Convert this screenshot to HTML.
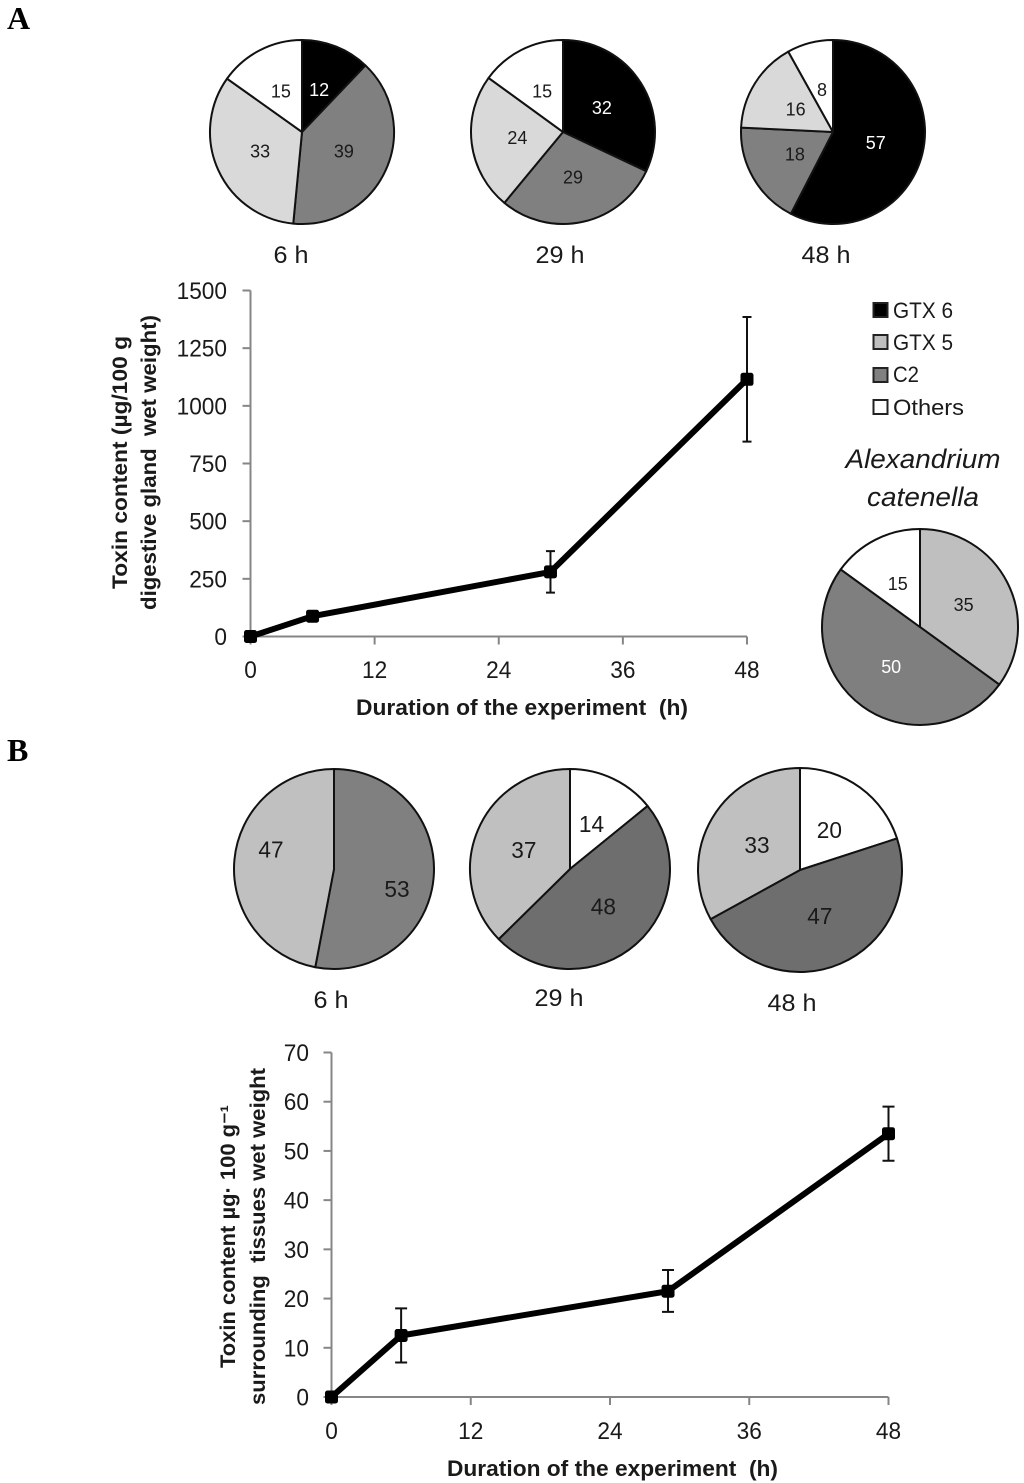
<!DOCTYPE html>
<html lang="en">
<head>
<meta charset="utf-8">
<title>Toxin content over time</title>
<style>
html,body{margin:0;padding:0;background:#fff;}
svg{display:block;font-family:"Liberation Sans",sans-serif;fill:#1a1a1a;}
svg text{white-space:pre;}
</style>
</head>
<body>
<svg id="fig" xmlns="http://www.w3.org/2000/svg" width="1024" height="1483" viewBox="0 0 1024 1483">
  <rect x="0" y="0" width="1024" height="1483" fill="#fff"/>
  <text x="7" y="29" font-family="Liberation Serif" font-weight="bold" font-size="32" fill="#000">A</text>
  <text x="7" y="761" font-family="Liberation Serif" font-weight="bold" font-size="32" fill="#000">B</text>

  <text x="291" y="263" font-size="24" text-anchor="middle" textLength="35" lengthAdjust="spacingAndGlyphs">6 h</text>
  <text x="560" y="263" font-size="24" text-anchor="middle" textLength="49" lengthAdjust="spacingAndGlyphs">29 h</text>
  <text x="826" y="263" font-size="24" text-anchor="middle" textLength="49" lengthAdjust="spacingAndGlyphs">48 h</text>
  <text x="331" y="1008" font-size="24" text-anchor="middle" textLength="35" lengthAdjust="spacingAndGlyphs">6 h</text>
  <text x="559" y="1006" font-size="24" text-anchor="middle" textLength="49" lengthAdjust="spacingAndGlyphs">29 h</text>
  <text x="792" y="1011" font-size="24" text-anchor="middle" textLength="49" lengthAdjust="spacingAndGlyphs">48 h</text>

  <g>
    <rect x="873.5" y="303" width="14" height="14" fill="#000" stroke="#222" stroke-width="2"/>
    <text x="893" y="318" font-size="22" textLength="60" lengthAdjust="spacingAndGlyphs">GTX 6</text>
    <rect x="873.5" y="335" width="14" height="14" fill="#bfbfbf" stroke="#222" stroke-width="2"/>
    <text x="893" y="350" font-size="22" textLength="60" lengthAdjust="spacingAndGlyphs">GTX 5</text>
    <rect x="873.5" y="368" width="14" height="14" fill="#808080" stroke="#222" stroke-width="2"/>
    <text x="893" y="382" font-size="22" textLength="26" lengthAdjust="spacingAndGlyphs">C2</text>
    <rect x="873.5" y="400" width="14" height="14" fill="#fff" stroke="#222" stroke-width="2"/>
    <text x="893" y="415" font-size="22" textLength="71" lengthAdjust="spacingAndGlyphs">Others</text>
  </g>
  <text x="923" y="468" font-size="27" font-style="italic" text-anchor="middle" textLength="155" lengthAdjust="spacingAndGlyphs">Alexandrium</text>
  <text x="923" y="506" font-size="27" font-style="italic" text-anchor="middle" textLength="112" lengthAdjust="spacingAndGlyphs">catenella</text>

  <text x="522" y="715" font-size="22" font-weight="bold" text-anchor="middle" textLength="332" lengthAdjust="spacingAndGlyphs">Duration of the experiment  (h)</text>
  <text transform="translate(127,462.5) rotate(-90)" font-size="21" font-weight="bold" text-anchor="middle" textLength="253" lengthAdjust="spacingAndGlyphs">Toxin content (µg/100 g</text>
  <text transform="translate(156,462.5) rotate(-90)" font-size="21" font-weight="bold" text-anchor="middle" textLength="295" lengthAdjust="spacingAndGlyphs">digestive gland  wet weight)</text>

  <text x="612.5" y="1476" font-size="22" font-weight="bold" text-anchor="middle" textLength="331" lengthAdjust="spacingAndGlyphs">Duration of the experiment  (h)</text>
  <text transform="translate(235,1236.5) rotate(-90)" font-size="21" font-weight="bold" text-anchor="middle" textLength="263" lengthAdjust="spacingAndGlyphs">Toxin content µg· 100 g⁻¹</text>
  <text transform="translate(265,1236.5) rotate(-90)" font-size="21" font-weight="bold" text-anchor="middle" textLength="337" lengthAdjust="spacingAndGlyphs">surrounding  tissues wet weight</text>
</svg>
<script>
// Panel A line chart
const aHours = [0, 6, 29, 48];
const aToxin = [0, 88, 280, 1115];
const aErrUpper = [0, 88, 370, 1385];
const aErrLower = [0, 88, 190, 845];
const aYTicks = [0, 250, 500, 750, 1000, 1250, 1500];
const aXTicks = [0, 12, 24, 36, 48];

// Panel B line chart
const bHours = [0, 6, 29, 48];
const bToxin = [0, 12.5, 21.5, 53.5];
const bErrUpper = [0, 18, 25.8, 59];
const bErrLower = [0, 7, 17.3, 48];
const bYTicks = [0, 10, 20, 30, 40, 50, 60, 70];
const bXTicks = [0, 12, 24, 36, 48];

// Pie values, clockwise from 12 o'clock
const pieA6Series = ['GTX 6', 'C2', 'GTX 5', 'Others'];
const pieA6Values = [12, 39, 33, 15];
const pieA29Series = ['GTX 6', 'C2', 'GTX 5', 'Others'];
const pieA29Values = [32, 29, 24, 15];
const pieA48Series = ['GTX 6', 'C2', 'GTX 5', 'Others'];
const pieA48Values = [57, 18, 16, 8];
const pieCatSeries = ['GTX 5', 'C2', 'Others'];
const pieCatValues = [35, 50, 15];
const pieB6Series = ['C2', 'GTX 5'];
const pieB6Values = [53, 47];
const pieB29Series = ['Others', 'C2', 'GTX 5'];
const pieB29Values = [14, 48, 37];
const pieB48Series = ['Others', 'C2', 'GTX 5'];
const pieB48Values = [20, 47, 33];

const svg = document.getElementById('fig');
const NS = 'http://www.w3.org/2000/svg';
const AXIS = '#868686';

function mk(tag, attrs, parent) {
  const el = document.createElementNS(NS, tag);
  for (const k in attrs) el.setAttribute(k, attrs[k]);
  (parent || svg).appendChild(el);
  return el;
}

function numLabel(parent, x, y, txt, size, anchor, fill, digitWidth) {
  const s = String(txt);
  const t = mk('text', {x: x, y: y, 'font-size': size, 'text-anchor': anchor, fill: fill, textLength: s.length * digitWidth, lengthAdjust: 'spacingAndGlyphs'}, parent);
  t.textContent = s;
  return t;
}

function drawLine(prefix, box, hours, vals, up, lo, yTicks, xTicks, yMax, xMax, yLabelX, xLabelY, capHalf) {
  const sx = v => box.x0 + (v / xMax) * (box.x1 - box.x0);
  const sy = v => box.y0 - (v / yMax) * (box.y0 - box.y1);
  const g = mk('g', {});
  
  

  const yAxis = mk('line', {x1: box.x0, x2: box.x0, y1: sy(0), y2: sy(yMax), stroke: AXIS, 'stroke-width': 2}, g);
  
  
  const xAxis = mk('line', {x1: sx(0), x2: sx(xMax), y1: box.y0, y2: box.y0, stroke: AXIS, 'stroke-width': 2}, g);
  
  

  yTicks.forEach(v => {
    const t = mk('line', {x1: box.x0 - 8, x2: box.x0, y1: sy(v), y2: sy(v), stroke: AXIS, 'stroke-width': 2}, g);
    
    
    const l = numLabel(g, yLabelX, sy(v) + 8.5, v, 24, 'end', '#1a1a1a', 12.6);
    
    
  });
  xTicks.forEach(v => {
    const t = mk('line', {x1: sx(v), x2: sx(v), y1: box.y0, y2: box.y0 + 8, stroke: AXIS, 'stroke-width': 2}, g);
    
    
    const l = numLabel(g, sx(v), xLabelY, v, 24, 'middle', '#1a1a1a', 12.6);
    
    
  });

  hours.forEach((h, i) => {
    if (up[i] === lo[i]) return;
    const x = sx(h);
    const e = mk('path', {
      d: 'M' + (x - capHalf) + ' ' + sy(up[i]) + 'H' + (x + capHalf) + 'M' + x + ' ' + sy(up[i]) + 'V' + sy(lo[i]) + 'M' + (x - capHalf) + ' ' + sy(lo[i]) + 'H' + (x + capHalf),
      fill: 'none', stroke: '#111', 'stroke-width': 2
    }, g);
    
    
  });

  const pts = hours.map((h, i) => sx(h) + ',' + sy(vals[i])).join(' ');
  const line = mk('polyline', {points: pts, fill: 'none', stroke: '#000', 'stroke-width': 6, 'stroke-linejoin': 'round'}, g);
  
  

  hours.forEach((h, i) => {
    const m = mk('rect', {x: sx(h) - 6.5, y: sy(vals[i]) - 6.5, width: 13, height: 13, rx: 2.5, fill: '#000'}, g);
    
    
  });
}

function drawPie(name, cx, cy, r, series, values, palette, labelR, size, digitW, whiteLabels, labelTurn) {
  const g = mk('g', {});
  
  
  const total = values.reduce((a, b) => a + b, 0);
  const pt = (rad, a) => [cx + rad * Math.sin(a), cy - rad * Math.cos(a)];
  let acc = 0;
  values.forEach((v, i) => {
    const a0 = acc / total * 2 * Math.PI;
    acc += v;
    const a1 = acc / total * 2 * Math.PI;
    const p0 = pt(r, a0), p1 = pt(r, a1);
    const large = (a1 - a0) > Math.PI ? 1 : 0;
    const s = mk('path', {
      d: 'M' + cx + ' ' + cy + 'L' + p0[0] + ' ' + p0[1] + 'A' + r + ' ' + r + ' 0 ' + large + ' 1 ' + p1[0] + ' ' + p1[1] + 'Z',
      fill: palette[series[i]], stroke: '#111', 'stroke-width': 2, 'stroke-linejoin': 'round'
    }, g);
    
    
  });
  acc = 0;
  values.forEach((v, i) => {
    const mid = (acc + v / 2) / total * 2 * Math.PI + (labelTurn || 0) * Math.PI / 180;
    acc += v;
    const p = pt(labelR, mid);
    const fill = whiteLabels.indexOf(series[i]) >= 0 ? '#fff' : '#1a1a1a';
    const l = numLabel(g, p[0], p[1] + size * 0.36, v, size, 'middle', fill, digitW);
    
    
  });
}

const paletteA = {'GTX 6': '#000000', 'C2': '#808080', 'GTX 5': '#d9d9d9', 'Others': '#ffffff'};
const paletteCat = {'C2': '#7f7f7f', 'GTX 5': '#bfbfbf', 'Others': '#ffffff'};
const paletteB6 = {'C2': '#808080', 'GTX 5': '#c0c0c0', 'Others': '#ffffff'};
const paletteB = {'C2': '#6e6e6e', 'GTX 5': '#c0c0c0', 'Others': '#ffffff'};

drawPie('pie-a-6h', 302, 132, 92, pieA6Series, pieA6Values, paletteA, 46, 18, 10, ['GTX 6']);
drawPie('pie-a-29h', 563, 132, 92, pieA29Series, pieA29Values, paletteA, 46, 18, 10, ['GTX 6']);
drawPie('pie-a-48h', 833, 132, 92, pieA48Series, pieA48Values, paletteA, 44, 18, 10, ['GTX 6']);
drawPie('pie-alexandrium-catenella', 920, 627, 98, pieCatSeries, pieCatValues, paletteCat, 49, 18, 10, ['C2']);
drawPie('pie-b-6h', 334, 869, 100, pieB6Series, pieB6Values, paletteB6, 66, 23, 12.6, [], 12);
drawPie('pie-b-29h', 570, 869, 100, pieB29Series, pieB29Values, paletteB, 50, 23, 12.6, []);
drawPie('pie-b-48h', 800, 870, 102, pieB48Series, pieB48Values, paletteB, 50, 23, 12.6, []);

drawLine('chart-a', {x0: 250.5, x1: 747, y0: 636.5, y1: 290.5}, aHours, aToxin, aErrUpper, aErrLower, aYTicks, aXTicks, 1500, 48, 227, 678, 4.5);
drawLine('chart-b', {x0: 331.5, x1: 888.5, y0: 1397, y1: 1052.5}, bHours, bToxin, bErrUpper, bErrLower, bYTicks, bXTicks, 70, 48, 309, 1439, 6);
</script>
</body>
</html>
